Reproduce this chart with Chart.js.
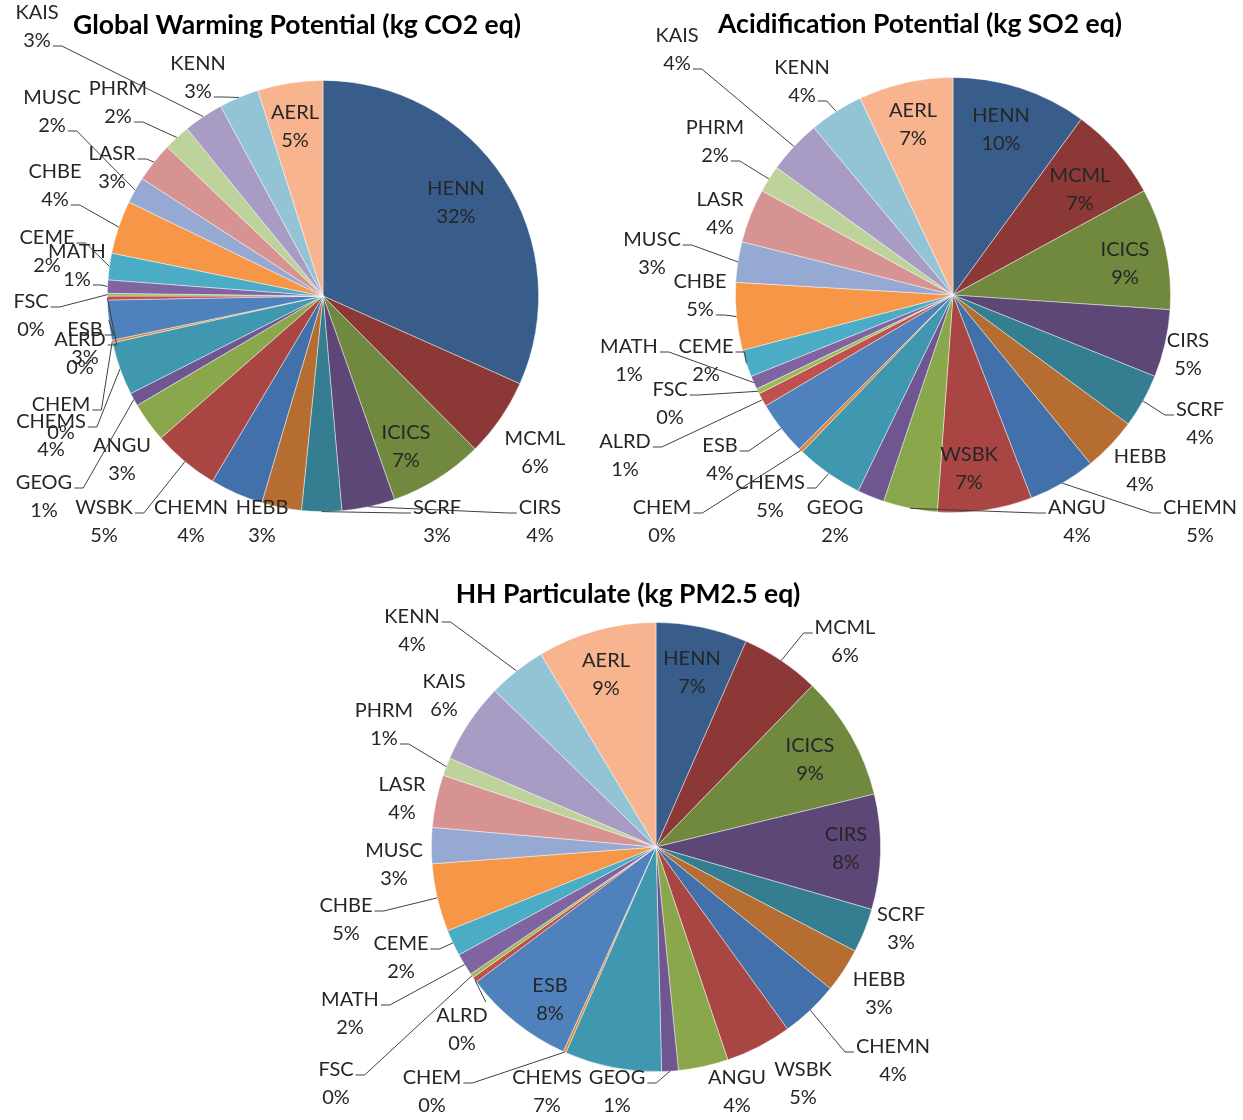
<!DOCTYPE html>
<html><head><meta charset="utf-8">
<script src="https://cdn.jsdelivr.net/npm/chart.js@4.4.1/dist/chart.umd.min.js"></script>
<style>
html,body{margin:0;padding:0;background:#fff;}
#wrap{position:relative;width:1243px;height:1120px;overflow:hidden;}
canvas{position:absolute;left:0;top:0;}
</style></head><body><div id="wrap">
<canvas id="c1" width="1243" height="1120"></canvas>
<canvas id="c2" width="1243" height="1120"></canvas>
<canvas id="c3" width="1243" height="1120"></canvas>
</div>
<script>
// ---------- DATA ----------
const categories = ['HENN','MCML','ICICS','CIRS','SCRF','HEBB','CHEMN','WSBK','ANGU','GEOG','CHEMS','CHEM',
                    'ESB','ALRD','FSC','MATH','CEME','CHBE','MUSC','LASR','PHRM','KAIS','KENN','AERL'];
const gwpValues = [31.8, 5.9, 7.1, 4.0, 3.0, 3.0, 4.0, 5.0, 3.0, 1.0, 4.0, 0.2,
                   3.0, 0.3, 0.2, 1.0, 2.0, 4.0, 2.0, 3.0, 2.0, 3.0, 3.0, 4.9];
const apValues  = [10, 7, 9, 5, 4, 4, 5, 7, 4, 2, 5, 0.3,
                   4, 1, 0.4, 1, 2, 5, 3, 4, 2, 4, 4, 7];
const hhValues  = [6.6, 5.7, 9.0, 8.3, 3.2, 3.2, 4.2, 4.8, 3.6, 1.2, 7.0, 0.2,
                   8.0, 0.4, 0.3, 1.6, 1.9, 4.9, 2.6, 3.8, 1.3, 5.8, 4.2, 8.6];
const chartTitles = ['Global Warming Potential (kg CO2 eq)', 'Acidification Potential (kg SO2 eq)', 'HH Particulate (kg PM2.5 eq)'];

// ---------- STYLE ----------
const sliceColors = ['#385D8A','#8C3836','#71893F','#5C4776','#357D91','#B66D31',
                     '#4170AA','#A94543','#8AA74C','#6F5690','#3F98AF','#E0883A',
                     '#4F81BD','#C0504D','#9BBB59','#8064A2','#4BACC6','#F79646',
                     '#95A9D2','#D69391','#BDD39B','#A99CC4','#92C4D6','#F8B48F'];
const LABEL_FONT = '20px Lato, "Open Sans", sans-serif';
const TITLE_FONT = 'bold 26.5px Lato, "Open Sans", sans-serif';
const LINE_GAP = 28;
const TEXT_COLOR = '#262626';

// label placement: [dx, dy from pie centre, leader anchor]
const gwpLayout = {
  HENN:[133,-93,'in'], MCML:[212,157,'none'], ICICS:[83,151,'in'], CIRS:[217,226,'L1'], SCRF:[114,226,'L1'],
  HEBB:[-61,226,'none'], CHEMN:[-132,226,'none'], WSBK:[-219,226,'R1'], ANGU:[-201,164,'none'],
  GEOG:[-279,201,'R1'], CHEMS:[-272,140,'R1'], CHEM:[-262,123,'R1'], ESB:[-238,48,'R1'], ALRD:[-243,58,'R1'],
  FSC:[-292,20,'R1'], MATH:[-246,-30,'R2'], CEME:[-276,-44,'R1'], CHBE:[-268,-110,'R2'], MUSC:[-271,-184,'R2'],
  LASR:[-211,-128,'R1'], PHRM:[-205,-193,'R2'], KAIS:[-286,-269,'R2'], KENN:[-125,-218,'R2'], AERL:[-28,-169,'in']
};
const apLayout = {
  HENN:[48,-165,'in'], MCML:[127,-105,'in'], ICICS:[172,-31,'in'], CIRS:[235,60,'none'], SCRF:[247,129,'L1'],
  HEBB:[187,176,'none'], CHEMN:[247,227,'L1'], WSBK:[16,174,'in'], ANGU:[124,227,'L1'], GEOG:[-118,227,'none'],
  CHEMS:[-183,202,'R1'], CHEM:[-291,227,'R1'], ESB:[-233,165,'R1'], ALRD:[-328,161,'R1'], FSC:[-283,109,'R1'],
  MATH:[-324,66,'R1'], CEME:[-247,66,'R1'], CHBE:[-253,1,'R2'], MUSC:[-301,-41,'R1'], LASR:[-233,-81,'none'],
  PHRM:[-238,-153,'R2'], KAIS:[-276,-245,'R2'], KENN:[-151,-213,'R2'], AERL:[-40,-170,'in']
};
const hhLayout = {
  HENN:[36,-174,'in'], MCML:[189,-205,'L1'], ICICS:[154,-87,'in'], CIRS:[190,2,'in'], SCRF:[245,82,'none'],
  HEBB:[223,147,'none'], CHEMN:[237,214,'L1'], WSBK:[147,237,'none'], ANGU:[81,245,'none'], GEOG:[-39,245,'R1'],
  CHEMS:[-109,245,'none'], CHEM:[-224,245,'R1'], ESB:[-106,153,'in'], ALRD:[-194,183,'T'], FSC:[-320,237,'R1'],
  MATH:[-306,167,'R1'], CEME:[-255,111,'R1'], CHBE:[-310,73,'R1'], MUSC:[-262,18,'none'], LASR:[-254,-48,'none'],
  PHRM:[-272,-122,'R2'], KAIS:[-212,-151,'none'], KENN:[-244,-216,'R1'], AERL:[-50,-172,'in']
};

const sliceLabels = {
  id: 'sliceLabels',
  afterDatasetsDraw(chart, args, opts) {
    const ctx = chart.ctx;
    const meta = chart.getDatasetMeta(0);
    const data = chart.data.datasets[0].data;
    const total = data.reduce((a, b) => a + b, 0);
    ctx.save();
    ctx.font = LABEL_FONT;
    ctx.textAlign = 'center';
    ctx.textBaseline = 'middle';
    ctx.strokeStyle = '#404040';
    ctx.lineWidth = 1;
    meta.data.forEach((arc, i) => {
      const name = chart.data.labels[i];
      const spec = opts.layout[name];
      if (!spec) return;
      const p = arc.getProps(['x', 'y', 'startAngle', 'endAngle', 'outerRadius'], true);
      const cx = p.x + spec[0], cy = p.y + spec[1];
      const pct = Math.round(data[i] / total * 100) + '%';
      const y1 = cy - LINE_GAP / 2, y2 = cy + LINE_GAP / 2;
      const anchor = spec[2];
      if (anchor !== 'in' && anchor !== 'none') {
        const mid = (p.startAngle + p.endAngle) / 2;
        const ex = p.x + Math.cos(mid) * p.outerRadius, ey = p.y + Math.sin(mid) * p.outerRadius;
        const w1 = ctx.measureText(name).width, w2 = ctx.measureText(pct).width;
        let sx, sy, kx;
        if (anchor === 'R1') { sx = cx + w1 / 2 + 2; sy = y1 + 5; kx = sx + 9; }
        else if (anchor === 'R2') { sx = cx + w2 / 2 + 2; sy = y2 + 5; kx = sx + 9; }
        else if (anchor === 'L1') { sx = cx - w1 / 2 - 2; sy = y1 + 5; kx = sx - 9; }
        else if (anchor === 'L2') { sx = cx - w2 / 2 - 2; sy = y2 + 5; kx = sx - 9; }
        else { sx = cx + w1 / 2 - 2; sy = y1 - 14; kx = sx; }
        ctx.beginPath();
        ctx.moveTo(sx, sy); ctx.lineTo(kx, sy); ctx.lineTo(ex, ey);
        ctx.stroke();
      }
      ctx.fillStyle = TEXT_COLOR;
      ctx.fillText(name, cx, y1);
      ctx.fillText(pct, cx, y2);
    });
    ctx.font = TITLE_FONT;
    ctx.fillStyle = '#000';
    ctx.fillText(opts.title, opts.tx, opts.ty);
    ctx.restore();
  }
};

function makePie(id, values, layout, title, pad, tx, ty) {
  new Chart(document.getElementById(id), {
    type: 'pie',
    data: {
      labels: categories,
      datasets: [{ data: values, backgroundColor: sliceColors, borderColor: 'rgba(255,255,255,0.55)', borderWidth: 0.8 }]
    },
    options: {
      responsive: false,
      animation: false,
      devicePixelRatio: 1,
      layout: { padding: pad },
      plugins: {
        legend: { display: false },
        tooltip: { enabled: false },
        sliceLabels: { layout: layout, title: title, tx: tx, ty: ty }
      }
    },
    plugins: [sliceLabels]
  });
}

makePie('c1', gwpValues, gwpLayout, chartTitles[0], { left: 107, top: 80, right: 704, bottom: 608 }, 297, 25);
makePie('c2', apValues, apLayout, chartTitles[1], { left: 735, top: 77, right: 72, bottom: 607 }, 920, 24);
makePie('c3', hhValues, hhLayout, chartTitles[2], { left: 431, top: 622, right: 362, bottom: 48 }, 628, 594);
</script></body></html>
